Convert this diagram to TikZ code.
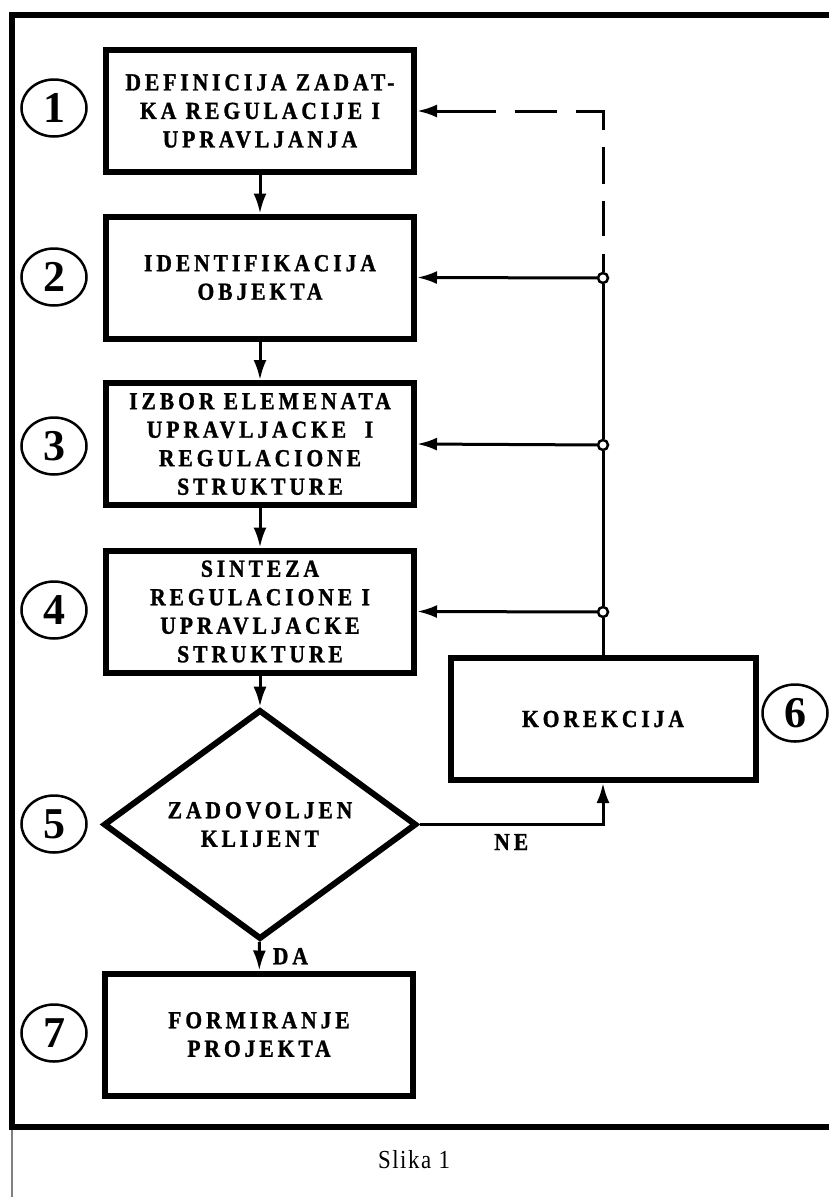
\documentclass[tikz,border=0pt]{standalone}
\usepackage{fontspec}
\setmainfont{Liberation Serif}
\newfontfamily\lblfont[LetterSpace=16, FakeStretch=0.88, BoldFeatures={FakeBold=1.2}]{Liberation Serif}
\newfontfamily\capfont[LetterSpace=6, FakeStretch=0.88]{Liberation Serif}
\usetikzlibrary{arrows.meta, shapes.geometric, positioning}

\begin{document}
\begin{tikzpicture}[x=1pt, y=-1pt,
  box/.style = {draw, line width=6pt, minimum width=308pt, minimum height=122pt, inner sep=0pt, align=center, font=\lblfont\bfseries\fontsize{24.5}{28.5}\selectfont},
  num/.style = {draw, ellipse, line width=2.5pt, minimum width=65pt, minimum height=57pt, inner sep=0pt, font=\bfseries\fontsize{44}{44}\selectfont},
  dot/.style = {draw, circle, fill=white, line width=2.5pt, minimum size=10pt, inner sep=0pt},
  lbl/.style = {inner sep=0pt, font=\lblfont\bfseries\fontsize{24.5}{28}\selectfont},
  arr/.style = {line width=3pt, -{Latex[length=20pt, width=13pt]}}]
      \useasboundingbox (0,0) rectangle (828,1197);

      % frame
      \draw[line width=6pt] (830,14.5) -- (11.5,14.5) -- (11.5,1126.5) -- (830,1126.5);
      \draw[gray, line width=1.5pt] (12,1129.5) -- (12,1197);

      \node[box] (1) at (260,111)   {DEFINICIJA ZADAT-\\KA REGULACIJE I\\UPRAVLJANJA};
      \node[box] (2) at (260,277.5) {IDENTIFIKACIJA\\OBJEKTA};
      \node[box] (3) at (260,444)   {IZBOR ELEMENATA\\UPRAVLJACKE\ \ I\\REGULACIONE\\STRUKTURE};
      \node[box] (4) at (260,611.5) {SINTEZA\\REGULACIONE I\\UPRAVLJACKE\\STRUKTURE};
      \node[box, draw, diamond, minimum width=313pt, minimum height=218pt] (5) at (260,824.5) {ZADOVOLJEN\\KLIJENT};
      \node[box, minimum width=305pt] (6) at (603,719) {KOREKCIJA};
      \node[box] (7) at (259,1034.5) {FORMIRANJE\\PROJEKTA};

      \node[num] (c1) at (54,108)  {1};
      \node[num] (c2) at (54,277)  {2};
      \node[num] (c3) at (54,446)  {3};
      \node[num] (c4) at (54,610)  {4};
      \node[num] (c5) at (54,824)  {5};
      \node[num] (c6) at (795,713) {6};
      \node[num] (c7) at (54,1033) {7};

      \node[dot] (j2) at (603,278) {};
      \node[dot] (j3) at (603,445) {};
      \node[dot] (j4) at (603,612) {};

      \path[arr]
      (1) edge (2)
      (2) edge (3)
      (3) edge (4)
      (4) edge (5)
      (5) edge node[lbl, right=12pt] {DA} (7);

      % povratne veze
      \draw[line width=3pt] (6.north) -- (j4);
      \draw[line width=3pt] (j4) -- (j3);
      \draw[line width=3pt] (j3) -- (j2);
      \draw[arr] (j2) -- (2.east);
      \draw[arr] (j3) -- (3.east);
      \draw[arr] (j4) -- (4.east);
      \draw[line width=3pt, {Latex[length=20pt, width=13pt]}-,
        dash pattern=on 60pt off 19pt on 42pt off 19pt on 46pt off 17pt on 37pt off 17pt on 35pt off 18pt on 40pt off 0pt]
        (1.east) -| (j2);
      \draw[arr] (5.east) -| node[lbl, below=8pt, pos=.25] {NE} (6.south);

      \node[font=\capfont\fontsize{26}{26}\selectfont] (cap) at (414,1160) {Slika 1};
\end{tikzpicture}
\end{document}
